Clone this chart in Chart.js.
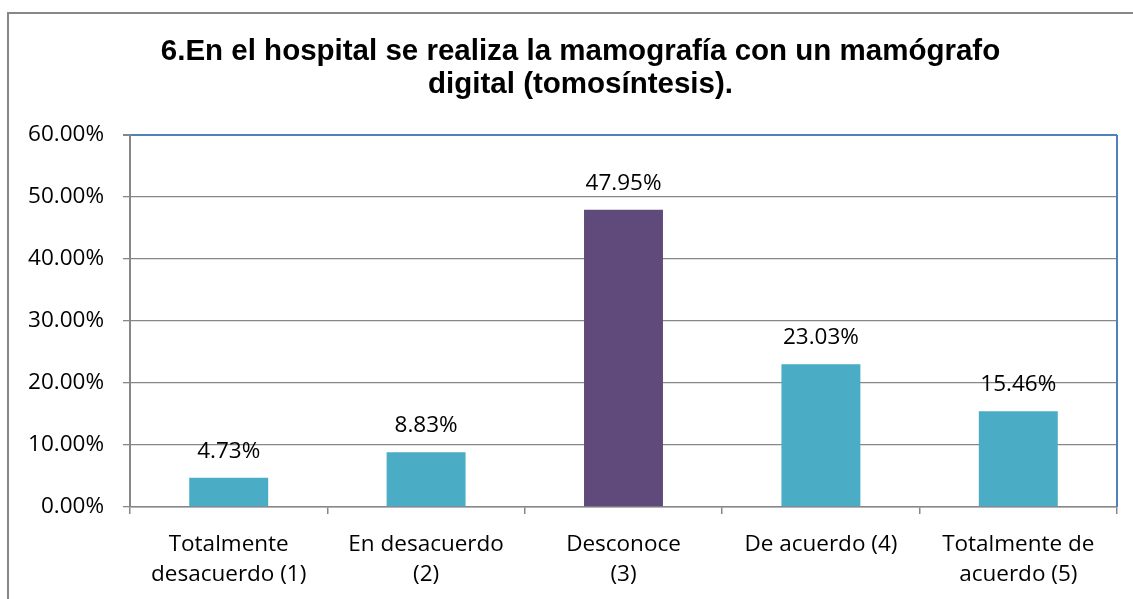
<!DOCTYPE html>
<html>
<head>
<meta charset="utf-8">
<script src="https://cdn.jsdelivr.net/npm/chart.js@4"></script>
<style>
  html, body { margin: 0; padding: 0; background: #ffffff; }
  #wrap { width: 1133px; height: 599px; }
</style>
</head>
<body>
<div id="wrap"><canvas id="c" width="1133" height="599"></canvas></div>
<script>
const titleLines = ["6.En el hospital se realiza la mamografía con un mamógrafo", "digital (tomosíntesis)."];
const categories = [["Totalmente", "desacuerdo (1)"], ["En desacuerdo", "(2)"], ["Desconoce", "(3)"], ["De acuerdo (4)"], ["Totalmente de", "acuerdo (5)"]];
const values = [4.73, 8.83, 47.95, 23.03, 15.46];
const barColors = ["#4BACC6", "#4BACC6", "#604A7B", "#4BACC6", "#4BACC6"];
const yMin = 0;
const yMax = 60;
const yStep = 10;

const GRAY = "#878787";
const BLUE = "#4F81BD";
const LABEL_FONT = { family: "'Open Sans', Lato, sans-serif", size: 22.5 };
const TITLE_FONT = "bold 29.5px 'Liberation Sans', Arial, sans-serif";

const frame = {
  id: "frame",
  afterDraw(chart) {
    const { ctx, chartArea } = chart;
    ctx.save();
    ctx.strokeStyle = GRAY;
    ctx.lineWidth = 2;
    ctx.strokeRect(8, 13, 1200, 700);
    ctx.strokeStyle = BLUE;
    ctx.lineWidth = 2;
    ctx.beginPath();
    ctx.moveTo(chartArea.right, chartArea.top);
    ctx.lineTo(chartArea.right, chartArea.bottom);
    ctx.stroke();
    ctx.restore();
  }
};

const titleText = {
  id: "titleText",
  afterDraw(chart) {
    const { ctx } = chart;
    ctx.save();
    ctx.font = TITLE_FONT;
    ctx.fillStyle = "#000000";
    ctx.textAlign = "center";
    ctx.textBaseline = "alphabetic";
    titleLines.forEach((line, i) => {
      ctx.fillText(line, 580.5, 60 + i * 33);
    });
    ctx.restore();
  }
};

const valueLabels = {
  id: "valueLabels",
  afterDatasetsDraw(chart) {
    const { ctx } = chart;
    const meta = chart.getDatasetMeta(0);
    ctx.save();
    ctx.font = LABEL_FONT.size + "px " + LABEL_FONT.family;
    ctx.fillStyle = "#000000";
    ctx.textAlign = "center";
    ctx.textBaseline = "alphabetic";
    meta.data.forEach((bar, i) => {
      ctx.fillText(values[i].toFixed(2) + "%", bar.x, bar.y - 20);
    });
    ctx.restore();
  }
};

new Chart(document.getElementById("c"), {
  type: "bar",
  data: {
    labels: categories,
    datasets: [{
      data: values,
      backgroundColor: barColors,
      borderWidth: 0,
      categoryPercentage: 1,
      barPercentage: 0.4
    }]
  },
  options: {
    responsive: false,
    animation: false,
    devicePixelRatio: 1,
    layout: { padding: { left: 0, right: 16, top: 135, bottom: 0 } },
    plugins: {
      legend: { display: false },
      tooltip: { enabled: false },
      title: { display: false }
    },
    scales: {
      x: {
        afterFit(scale) { scale.height = 92; },
        grid: {
          display: true,
          drawOnChartArea: false,
          drawTicks: true,
          offset: true,
          tickLength: 7,
          color: GRAY,
          lineWidth: 1.5
        },
        border: { display: true, color: GRAY, width: 1.5 },
        ticks: {
          color: "#000000",
          font: Object.assign({ lineHeight: 1.36 }, LABEL_FONT),
          padding: 15,
          maxRotation: 0,
          autoSkip: false
        }
      },
      y: {
        min: yMin,
        max: yMax,
        afterFit(scale) { scale.width = 130; },
        grid: {
          color: (c) => (c.tick && c.tick.value === yMax ? BLUE : GRAY),
          lineWidth: (c) => (c.tick && c.tick.value === yMax ? 2 : 1.3),
          tickColor: GRAY,
          tickLength: 7,
          drawTicks: true
        },
        border: { display: true, color: GRAY, width: 2 },
        ticks: {
          stepSize: yStep,
          color: "#000000",
          font: LABEL_FONT,
          padding: 19,
          callback: (v) => Number(v).toFixed(2) + "%"
        }
      }
    }
  },
  plugins: [frame, titleText, valueLabels]
});
</script>
</body>
</html>
